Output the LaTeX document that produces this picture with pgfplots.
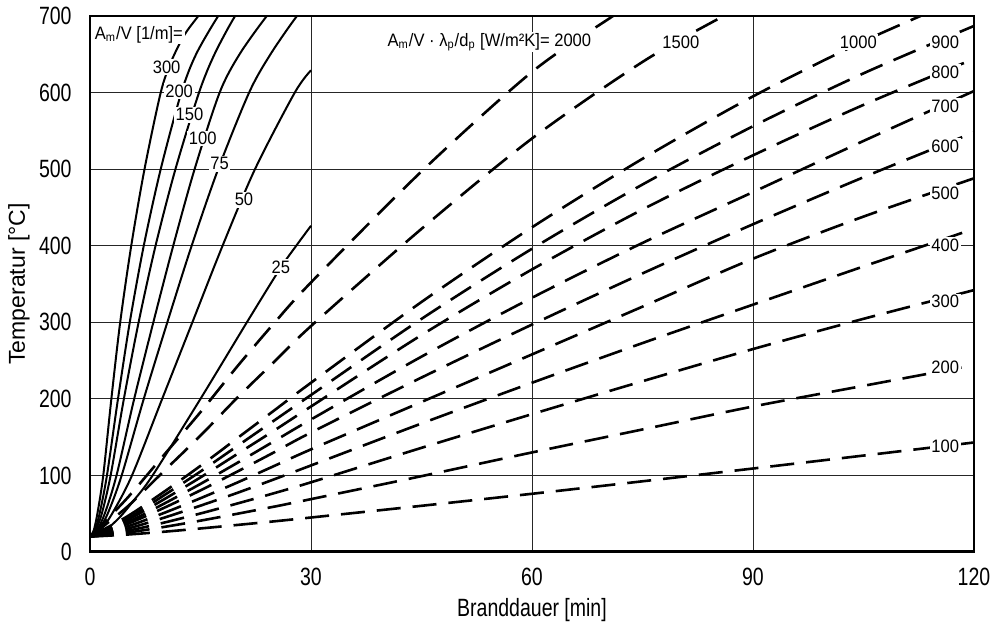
\documentclass[border=0pt]{standalone}
\usepackage{fontspec}
\setmainfont{Liberation Sans}
\newfontfamily\tickfont{Liberation Sans}[FakeStretch=0.78]
\newfontfamily\lblfont{Liberation Sans}[FakeStretch=0.92]
\usepackage{pgfplots}
\pgfplotsset{compat=1.18}
\tikzset{
  solidc/.style={black, line width=1pt, smooth},
  dashc/.style={black, line width=1.3pt, smooth, dash pattern=on 12pt off 6pt},
  lbl/.style={fill=white, inner sep=0.8pt, font=\fontsize{9}{10.5}\lblfont},
}

\begin{document}
\begin{tikzpicture}
\begin{axis}[
  scale only axis, width=442pt, height=268pt,
  xmin=0, xmax=120, ymin=0, ymax=700,
  xtick={0,30,60,90,120}, ytick={0,100,...,700},
  major tick length=0pt,
  grid=major, major grid style={line width=0.5pt, black!85},
  axis line style={line width=0.8pt, black},
  /pgf/number format/assume math mode=true,
  tick label style={font=\fontsize{12.5}{14}\tickfont},
  xticklabel style={anchor=north, inner sep=0pt, yshift=-8pt},
  yticklabel style={anchor=east, inner sep=0pt, xshift=-9pt},
  xlabel={Branddauer [min]}, ylabel={Temperatur [°C]},
  xlabel style={font=\fontsize{12.5}{14}\tickfont, at={(axis description cs:0.5,-0.108)}, anchor=center, inner sep=0pt},
  ylabel style={font=\fontsize{11.5}{13}\selectfont, at={(axis description cs:-0.0803,0.5)}, anchor=center, inner sep=0pt},
]
% ---- unprotected steel (solid) ----
\addplot[solidc] coordinates {(0,20)(0.5,28)(1,50)(1.8,100)(2.9,200)(4.1,300)(5.6,400)(7.4,500)(9.6,600)(11,640)(12.8,675)(14.7,700)(16,717)};
\addplot[solidc] coordinates {(0,20)(0.7,30)(1.3,50)(2.3,100)(3.8,200)(5.4,300)(7.3,400)(9.6,500)(12.4,600)(14.4,650)(17.4,700)(19,720)};
\addplot[solidc] coordinates {(0,20)(0.8,30)(1.6,50)(2.8,100)(4.6,200)(6.6,300)(8.9,400)(11.6,500)(14.8,600)(16.9,650)(19.7,700)(21.5,720)};
\addplot[solidc] coordinates {(0,20)(1,30)(2,50)(3.6,100)(6.0,200)(8.6,300)(11.3,400)(14.2,500)(17.6,600)(20.3,650)(24.0,700)(26,720)};
\addplot[solidc] coordinates {(0,20)(1.2,30)(2.4,50)(4.3,100)(7.3,200)(10.5,300)(13.8,400)(17.4,500)(21.6,600)(24.5,650)(28.1,700)(30,718)};
\addplot[solidc] coordinates {(0,20)(1.5,30)(3,50)(5.7,100)(9.8,200)(13.9,300)(18.0,400)(22.4,500)(27.8,600)(30,629)};
\addplot[solidc] coordinates {(0,20)(2,28)(4,45)(6,68)(8.5,100)(15,200)(21.3,300)(25.8,370)(28,400)(30,426)};
% ---- protected steel (dashed) ----
\addplot[dashc] coordinates {(0,20)(5,22.7)(10,26.4)(15,30.7)(20,35.3)(25,40)(30,45)(45,60.3)(60,76)(75,92.3)(90,109)(105,125.9)(120,143)};
\addplot[dashc] coordinates {(0,20)(5,25.2)(10,32.6)(15,40.9)(20,49.9)(25,59.2)(30,69)(45,99)(60,130)(75,160)(90,190)(105,217)(120,244)};
\addplot[dashc] coordinates {(0,20)(5,27.5)(10,38.2)(15,50.3)(20,63.3)(25,76.8)(30,91)(45,136)(60,180)(75,223)(90,265)(105,304.5)(120,342)};
\addplot[dashc] coordinates {(0,20)(5,30.2)(10,44.6)(15,60.5)(20,77.2)(25,94.9)(30,113)(45,167.8)(60,221)(75,272.8)(90,323)(105,372.9)(120,422)};
\addplot[dashc] coordinates {(0,20)(5,33.1)(10,50.8)(15,70.2)(20,90.7)(25,112.3)(30,134)(45,195.9)(60,258)(75,320.4)(90,383)(105,438)(120,488)};
\addplot[dashc] coordinates {(0,20)(5,36.3)(10,57.4)(15,80.5)(20,105)(25,130.2)(30,156)(45,227.8)(60,297)(75,363.8)(90,428)(105,489.4)(120,548)};
\addplot[dashc] coordinates {(0,20)(5,38.4)(10,62.8)(15,88.9)(20,116.4)(25,144.7)(30,173)(45,255.1)(60,332)(75,403.6)(90,470)(105,536.8)(120,602)};
\addplot[dashc] coordinates {(0,20)(5,41.3)(10,68.5)(15,97.4)(20,128)(25,158.6)(30,190)(45,283.3)(60,369)(75,447.3)(90,518)(105,583.9)(120,644)};
\addplot[dashc] coordinates {(0,20)(5,43.1)(10,73.7)(15,105.1)(20,138.4)(25,171.7)(30,205)(45,304.4)(60,396)(75,479.9)(90,556)(105,625.1)(120,687)};
\addplot[dashc] coordinates {(0,20)(5,46.1)(10,78.3)(15,112.5)(20,148.6)(25,184.8)(30,221)(45,326.5)(60,424)(75,513.5)(90,595)(105,667)(120,730)};
\addplot[dashc] coordinates {(0,20)(5,58.5)(10,105.3)(15,152)(20,201.5)(25,248.3)(30,295)(45,422)(60,540)(75,640)(86,700)(95,745)};
\addplot[dashc] coordinates {(0,20)(5,69.8)(10,126.2)(15,182.7)(20,242.4)(25,298.9)(30,352)(45,497)(60,627)(71,700)(75,725)};
% bottom axis line thicker
\draw[line width=1.6pt] (rel axis cs:0,0) -- (rel axis cs:1,0);
% ---- labels ----
\node[lbl, anchor=west] at (axis cs:0.4,676) {A\textsubscript{m}/V [1/m]=};
\node[lbl] at (axis cs:10.4,633) {300};
\node[lbl] at (axis cs:12.1,602) {200};
\node[lbl] at (axis cs:13.5,571) {150};
\node[lbl] at (axis cs:15.3,540) {100};
\node[lbl] at (axis cs:17.6,507) {75};
\node[lbl] at (axis cs:20.9,460) {50};
\node[lbl] at (axis cs:25.9,372) {25};
\node[lbl, anchor=east] at (axis cs:68.3,666) {A\textsubscript{m}/V · λ\textsubscript{p}/d\textsubscript{p} [W/m²K]= 2000};
\node[lbl] at (axis cs:80.2,666) {1500};
\node[lbl] at (axis cs:104.3,666) {1000};
\node[lbl] at (axis cs:116.1,665) {900};
\node[lbl] at (axis cs:116.1,627) {800};
\node[lbl] at (axis cs:116.1,582) {700};
\node[lbl] at (axis cs:116.1,530) {600};
\node[lbl] at (axis cs:116.1,469) {500};
\node[lbl] at (axis cs:116.1,401) {400};
\node[lbl] at (axis cs:116.1,327) {300};
\node[lbl] at (axis cs:116.1,241) {200};
\node[lbl] at (axis cs:116.1,137.5) {100};
\end{axis}
\pgfresetboundingbox
\path ([shift={(-45pt,-39pt)}]current axis.south west) rectangle ([shift={(9pt,8pt)}]current axis.north east);
\end{tikzpicture}
\end{document}
